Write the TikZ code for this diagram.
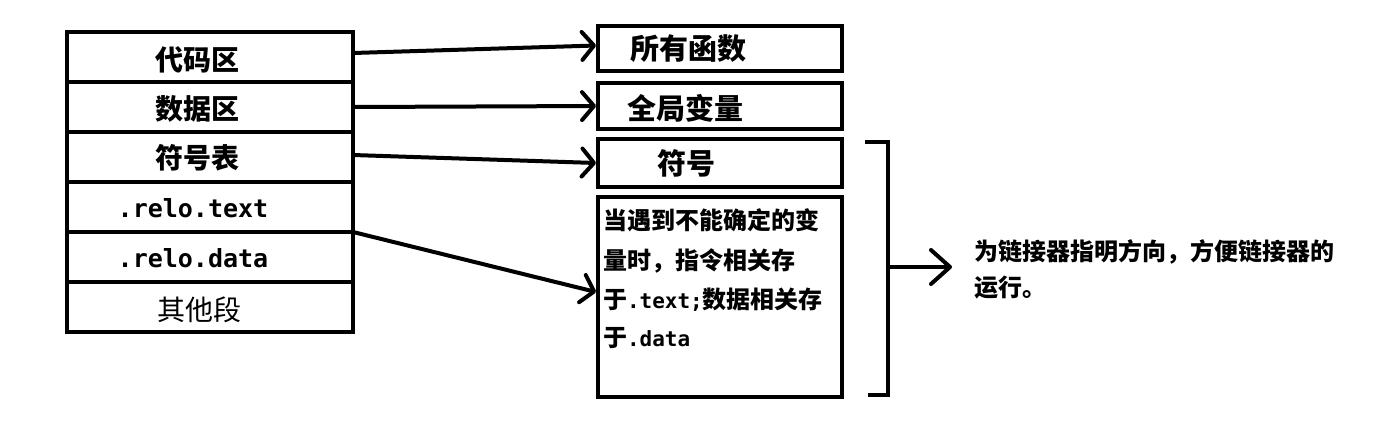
\documentclass[tikz,border=0pt]{standalone}
\usepackage{fontspec}
\newfontfamily\cjk{Noto Sans CJK SC}
\newfontfamily\mono{DejaVu Sans Mono}
\usetikzlibrary{arrows.meta,calc}
\begin{document}
\begin{tikzpicture}[x=1pt,y=-1pt,line width=4pt,
  seg/.style={draw,minimum width=286pt,minimum height=50pt,inner sep=0pt,outer sep=0pt},
  rbox/.style={draw,minimum width=244pt,inner sep=0pt,outer sep=2pt},
  lbl/.style={inner sep=0pt,font=\cjk\bfseries\fontsize{28}{30}\selectfont},
  lblm/.style={inner sep=0pt,font=\mono\bfseries\fontsize{25}{27}\selectfont},
  rlbl/.style={inner sep=0pt,anchor=west,font=\cjk\bfseries\fontsize{29}{31}\selectfont},
  blbl/.style={inner sep=0pt,anchor=west,font=\cjk\bfseries\fontsize{24}{26}\selectfont},
  conn/.style={-{Straight Barb[length=12pt,width=28pt,round]},line width=4pt},
  bigconn/.style={-{Straight Barb[length=19pt,width=34pt,round]},line width=4pt}]
\useasboundingbox (0,0) rectangle (1391,432);
% left block
\node[seg] (r1) at (210,57) {};
\node[seg] (r2) at (210,107) {};
\node[seg] (r3) at (210,157) {};
\node[seg] (r4) at (210,207) {};
\node[seg] (r5) at (210,257) {};
\node[seg] (r6) at (210,307) {};
\node[lbl] (t1) at (197,60) {代码区};
\node[lbl] (t2) at (197,109) {数据区};
\node[lbl] (t3) at (197,158) {符号表};
\node[lblm] (t4) at (193,208) {.relo.text};
\node[lblm] (t5) at (193,258) {.relo.data};
\node[inner sep=0pt,font=\cjk\fontsize{28}{30}\selectfont] (t6) at (199,310) {其他段};
% right boxes
\node[rbox,minimum height=45pt] (b1) at (720,48.5) {};
\node[rbox,minimum height=46pt] (b2) at (720,106) {};
\node[rbox,minimum height=48pt] (b3) at (720,163) {};
\node[rbox,minimum height=200pt] (b4) at (720,297) {};
\node[rlbl] (s1) at (628,48.5) {所有函数};
\node[rlbl] (s2) at (625,108) {全局变量};
\node[rlbl] (s3) at (655,163) {符号};
\node[blbl] (l1) at (601,220) {当遇到不能确定的变};
\node[blbl] (l2) at (601,261) {量时，指令相关存};
\node[blbl] (l3) at (601,300) {于{\mono\bfseries\fontsize{21}{23}\selectfont .text;}数据相关存};
\node[blbl] (l4) at (601,338) {于{\mono\bfseries\fontsize{21}{23}\selectfont .data}};
% connectors
\draw[conn] ($(r1.east)+(0,-4)$) -- ($(b1.west)+(0,-3)$);
\draw[conn] (r2.east) -- (b2.west);
\draw[conn] ($(r3.east)+(0,-2)$) -- (b3.west);
\draw[conn] (r4.south east) -- ($(b4.west)+(0,-5)$);
% bracket
\coordinate (bt) at (865,142);
\coordinate (bb) at (868,395);
\coordinate (bm) at (888,267);
\coordinate (bx) at (952,267);
\draw (bt) -- (888,142) -- (888,395) -- (bb);
\draw[bigconn] (bm) -- (bx);
\node[blbl] (n1) at (972,252) {为链接器指明方向，方便链接器的};
\node[blbl] (n2) at (972,288) {运行。};
\end{tikzpicture}
\end{document}
